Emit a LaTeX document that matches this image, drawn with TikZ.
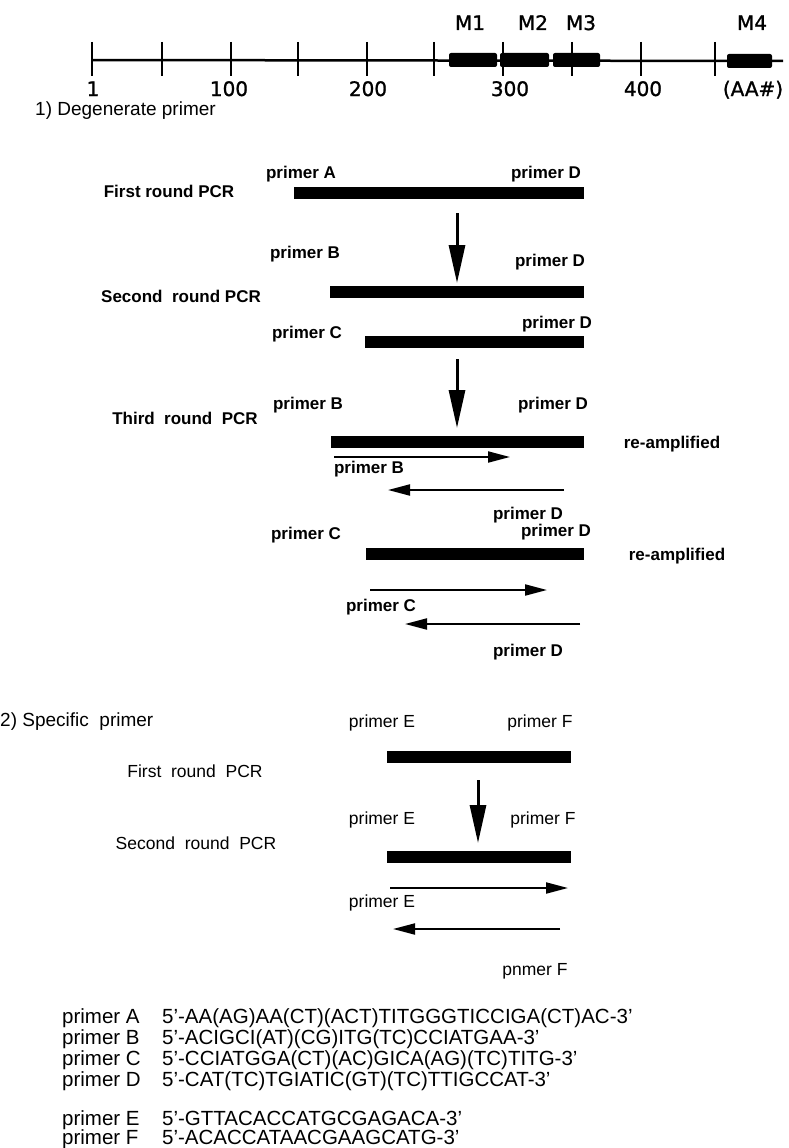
\documentclass[tikz,border=0pt]{standalone}
\usepackage{fontspec}
\setmainfont{Liberation Sans}
\newfontfamily\axisfont[FakeBold=1.2]{DejaVu Sans}
\usetikzlibrary{arrows.meta}

\begin{document}
\begin{tikzpicture}[x=1pt,y=-1pt,
  lab/.style={font=\bfseries\fontsize{17}{17}\selectfont, inner sep=0pt, anchor=base},
  labtwo/.style={font=\fontsize{17.5}{17.5}\selectfont, inner sep=0pt, anchor=base},
  head/.style={font=\fontsize{19}{19}\selectfont, inner sep=0pt, anchor=base west},
  seqname/.style={font=\fontsize{20.5}{20.5}\selectfont, inner sep=0pt, anchor=base west},
  seq/.style={font=\fontsize{20.5}{20.5}\selectfont, inner sep=0pt, anchor=base west},
  axlab/.style={font=\axisfont\fontsize{20}{20}\selectfont, inner sep=0pt, anchor=base},
  dna/.style={line width=12pt},
  primarrow/.style={line width=2pt, -{Triangle[length=22pt,width=11pt]}},
  roundarrow/.style={line width=3pt, -{Triangle[length=38pt,width=16pt]}},
  axtick/.style={line width=1.6pt},
  motif/.style={fill=black, rounded corners=2pt},
]
\useasboundingbox (0,0) rectangle (789,1148);

% ---------- protein axis with motifs ----------
\coordinate (axL) at (92,60);
\coordinate (axR) at (783,61);
\draw[line width=2.5pt] (axL) -- (axR);
\foreach \x in {92,162,231,298,367,434,503,572,641,715}
  \draw[axtick] (\x,42) -- (\x,76);
\fill[motif] (449,53) rectangle (497,67);
\fill[motif] (500,53) rectangle (549,67);
\fill[motif] (553,53) rectangle (600,67);
\fill[motif] (727,54) rectangle (772,68);
\node[axlab] (m1) at (470,30) {M1};
\node[axlab] (m2) at (533,30) {M2};
\node[axlab] (m3) at (581,30) {M3};
\node[axlab] (m4) at (752,30) {M4};
\node[axlab] (n1)   at (93,96)  {1};
\node[axlab] (n100) at (229,96) {100};
\node[axlab] (n200) at (368,96) {200};
\node[axlab] (n300) at (510,96) {300};
\node[axlab] (n400) at (643,96) {400};
\node[axlab] (naa)  at (753,96) {(AA\#)};

% ---------- 1) degenerate primers ----------
\node[head] (h1) at (35,115) {1) Degenerate primer};

% first round
\node[lab] (r1a) at (301,178) {primer A};
\node[lab] (r1d) at (546,178) {primer D};
\node[lab] (r1) at (169,197) {First round PCR};
\coordinate (b1l) at (294,193); \coordinate (b1r) at (584,193);
\draw[dna] (b1l) -- (b1r);
\coordinate (d1s) at (457,213); \coordinate (d1e) at (457,283);
\draw[roundarrow] (d1s) -- (d1e);

% second round
\node[lab] (r2b) at (305,258) {primer B};
\node[lab] (r2d) at (550,266) {primer D};
\node[lab] (r2) at (181,302) {Second\ \ round PCR};
\coordinate (b2l) at (330,292); \coordinate (b2r) at (584,292);
\draw[dna] (b2l) -- (b2r);
\node[lab] (r2c) at (307,338) {primer C};
\node[lab] (r2d2) at (557,328) {primer D};
\coordinate (b3l) at (365,342); \coordinate (b3r) at (584,342);
\draw[dna] (b3l) -- (b3r);
\coordinate (d2s) at (457,359); \coordinate (d2e) at (457,428);
\draw[roundarrow] (d2s) -- (d2e);

% third round
\node[lab] (r3b) at (308,409) {primer B};
\node[lab] (r3d) at (553,409) {primer D};
\node[lab] (r3) at (185,424) {Third\ \ round\ \ PCR};
\coordinate (b4l) at (331,442); \coordinate (b4r) at (584,442);
\draw[dna] (b4l) -- (b4r);
\node[lab] (ra1) at (672,448) {re-amplified};
\coordinate (pb1) at (334,457); \coordinate (pb2) at (510,457);
\draw[primarrow] (pb1) -- (pb2);
\node[lab] (pbl) at (369,473) {primer B};
\coordinate (pd1) at (564,490); \coordinate (pd2) at (388,490);
\draw[primarrow] (pd1) -- (pd2);
\node[lab] (pdl) at (528,519) {primer D};

\node[lab] (r3c) at (306,539) {primer C};
\node[lab] (r3d2) at (556,536) {primer D};
\coordinate (b5l) at (366,554); \coordinate (b5r) at (584,554);
\draw[dna] (b5l) -- (b5r);
\node[lab] (ra2) at (677,560) {re-amplified};
\coordinate (pc1) at (370,590); \coordinate (pc2) at (547,590);
\draw[primarrow] (pc1) -- (pc2);
\node[lab] (pcl) at (381,611) {primer C};
\coordinate (pe1) at (580,624); \coordinate (pe2) at (405,624);
\draw[primarrow] (pe1) -- (pe2);
\node[lab] (pdl2) at (528,656) {primer D};

% ---------- 2) specific primers ----------
\node[head] (h2) at (0,726) {2) Specific\ \ primer};
\node[labtwo] (s1e) at (382,727) {primer E};
\node[labtwo] (s1f) at (540,727) {primer F};
\coordinate (b6l) at (387,757); \coordinate (b6r) at (571,757);
\draw[dna] (b6l) -- (b6r);
\node[labtwo] (s1) at (195,777) {First\ \ round\ \ PCR};
\coordinate (d3s) at (478,780); \coordinate (d3e) at (478,843);
\draw[roundarrow] (d3s) -- (d3e);
\node[labtwo] (s2e) at (382,824) {primer E};
\node[labtwo] (s2f) at (543,824) {primer F};
\node[labtwo] (s2) at (196,849) {Second\ \ round\ \ PCR};
\coordinate (b7l) at (387,857); \coordinate (b7r) at (571,857);
\draw[dna] (b7l) -- (b7r);
\coordinate (pe3) at (390,888); \coordinate (pe4) at (568,888);
\draw[primarrow] (pe3) -- (pe4);
\node[labtwo] (pel) at (382,907) {primer E};
\coordinate (pf1) at (560,929); \coordinate (pf2) at (393,929);
\draw[primarrow] (pf1) -- (pf2);
\node[labtwo] (pfl) at (535,975) {pnmer F};

% ---------- primer sequences ----------
\foreach \y/\nm/\s [count=\i] in {
  1023/A/{5'-AA(AG)AA(CT)(ACT)TITGGGTICCIGA(CT)AC-3'},
  1044/B/{5'-ACIGCI(AT)(CG)ITG(TC)CCIATGAA-3'},
  1065/C/{5'-CCIATGGA(CT)(AC)GICA(AG)(TC)TITG-3'},
  1086/D/{5'-CAT(TC)TGIATIC(GT)(TC)TTIGCCAT-3'},
  1125/E/{5'-GTTACACCATGCGAGACA-3'},
  1144/F/{5'-ACACCATAACGAAGCATG-3'}}
{
  \node[seqname] (name\i) at (62,\y) {primer \nm};
  \node[seq] (seq\i) at (162,\y) {\s};
}
\end{tikzpicture}
\end{document}
